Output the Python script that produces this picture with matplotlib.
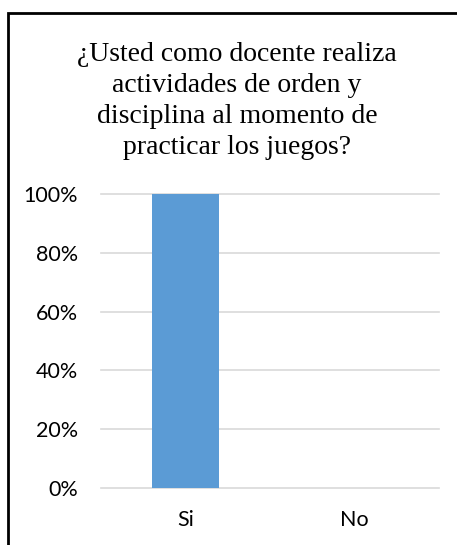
import matplotlib
matplotlib.use("Agg")
import matplotlib.pyplot as plt
from matplotlib.patches import Rectangle
from matplotlib.ticker import PercentFormatter

categories = ["Si", "No"]
values = [1.0, 0.0]
yticks = [0, 0.2, 0.4, 0.6, 0.8, 1.0]
title = "¿Usted como docente realiza\nactividades de orden y\ndisciplina al momento de\npracticar los juegos?"

W, H = 457, 545
fig = plt.figure(figsize=(W / 100, H / 100), dpi=100)

def fx(px):
    return px / W

def fy(py):
    return 1 - py / H

# outer border (cut at right and bottom edges)
fig.patches.append(Rectangle((fx(8), fy(560)), fx(470) - fx(8), fy(13) - fy(560),
                             transform=fig.transFigure, fill=False,
                             edgecolor="black", linewidth=2))

ax = fig.add_axes([fx(101), fy(488), fx(439) - fx(101), fy(194) - fy(488)])
ax.bar(range(len(categories)), values, width=0.4, color="#5B9BD5", zorder=3)
ax.set_xlim(-0.5, 1.5)
ax.set_ylim(0, 1.0)
ax.set_yticks(yticks)
ax.yaxis.set_major_formatter(PercentFormatter(1.0, decimals=0))
ax.set_xticks(range(len(categories)))
ax.set_xticklabels(categories)
for s in ax.spines.values():
    s.set_visible(False)
ax.grid(axis="y", color="#d9d9d9", linewidth=1.2, zorder=0)
ax.tick_params(length=0, labelsize=15.5, colors="#000000")
ax.tick_params(axis="y", pad=16.5)
ax.tick_params(axis="x", pad=16)
for lab in ax.get_xticklabels() + ax.get_yticklabels():
    lab.set_fontfamily("Lato")
for gl in ax.yaxis.get_gridlines():
    gl.set_clip_on(False)

fig.text(fx(237), fy(101), title, ha="center", va="center",
         fontfamily="Liberation Serif", fontsize=20, linespacing=1.3)

fig.savefig("out.png", dpi=100)
